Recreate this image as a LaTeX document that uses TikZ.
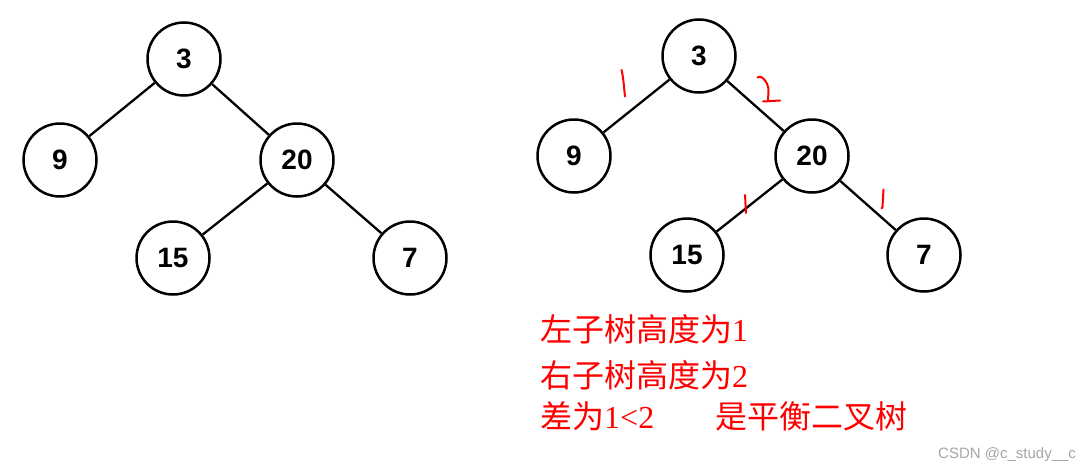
\documentclass[tikz,border=0pt]{standalone}
\usepackage{fontspec}
\setmainfont{Liberation Sans}
\newfontfamily\cjk{Noto Sans CJK SC}
\newfontfamily\serifnum{Liberation Serif}
\begin{document}
\begin{tikzpicture}[x=1pt,y=-1pt,
  tnode/.style={circle, draw=black, line width=2.5pt, minimum size=73pt, inner sep=0pt,
    font=\fontsize{28}{28}\selectfont\bfseries},
  tedge/.style={draw=black, line width=2.3pt},
  redmark/.style={draw=red, line width=2pt, line cap=round, line join=round},
  redtext/.style={anchor=base west, text=red, font=\cjk\fontsize{32}{32}\selectfont, inner sep=0pt}]
\useasboundingbox (0,0) rectangle (1091,471);
\fill[white] (0,0) rectangle (1091,471);
% left tree
\node[tnode] (a3) at (184,59) {3};
\node[tnode] (a9) at (60,160) {9};
\node[tnode] (a20) at (297,160) {20};
\node[tnode] (a15) at (173,258) {15};
\node[tnode] (a7) at (410,258) {7};
\draw[tedge] (a3) -- (a9);
\draw[tedge] (a3) -- (a20);
\draw[tedge] (a20) -- (a15);
\draw[tedge] (a20) -- (a7);
% right tree
\node[tnode] (b3) at (699,56) {3};
\node[tnode] (b9) at (574,156) {9};
\node[tnode] (b20) at (812,156) {20};
\node[tnode] (b15) at (687,255) {15};
\node[tnode] (b7) at (924,255) {7};
\draw[tedge] (b3) -- (b9);
\draw[tedge] (b3) -- (b20);
\draw[tedge] (b20) -- (b15);
\draw[tedge] (b20) -- (b7);
% hand-drawn red marks
\draw[redmark] (621.5,70) .. controls (623.5,78) and (624,88) .. (625,96.5);
\draw[redmark] (757.5,77.5) .. controls (762,74) and (769,84) .. (768.5,91) -- (768,100);
\draw[redmark] (763,101.5) -- (780,100.5);
\draw[redmark] (745,195) -- (746,213);
\draw[redmark] (883.5,189.5) -- (882.5,207) -- (881.5,208.5);
% text
\node[redtext] (t1) at (540,341) {左子树高度为{\serifnum 1}};
\node[redtext] (t2) at (540,387) {右子树高度为{\serifnum 2}};
\node[redtext] (t3) at (540,428) {差为{\serifnum 1<2}};
\node[redtext] (t4) at (715,428) {是平衡二叉树};
\node[anchor=base west, inner sep=0pt, text=black!35, font=\fontsize{15}{15}\selectfont] (wm) at (938,458) {CSDN @c\_study\_\_c};
\end{tikzpicture}
\end{document}
